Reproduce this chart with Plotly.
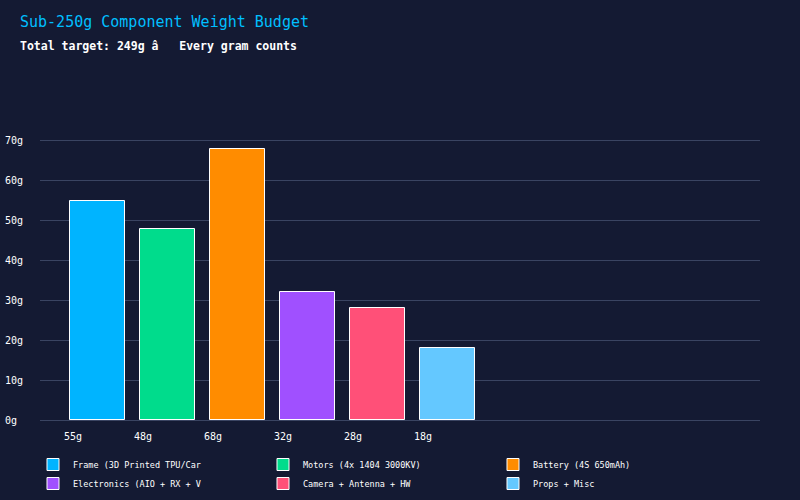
import plotly.graph_objects as go

components = ["Frame (3D Printed TPU/Car", "Motors (4x 1404 3000KV)", "Battery (4S 650mAh)",
              "Electronics (AIO + RX + V", "Camera + Antenna + HW", "Props + Misc"]
weights = [55, 48, 68, 32, 28, 18]
colors = ["#00b4ff", "#00dc8c", "#ff8c00", "#a050ff", "#ff5078", "#64c8ff"]
tick_labels = ["55g", "48g", "68g", "32g", "28g", "18g"]
y_ticks = [0, 10, 20, 30, 40, 50, 60, 70]
y_tick_text = ["0g\u00a0", "10g", "20g", "30g", "40g", "50g", "60g", "70g"]

BG = "#141a33"
GRID = "#3a4462"
FONT = "DejaVu Sans Mono"

fig = go.Figure()
for i, (name, w, c) in enumerate(zip(components, weights, colors)):
    fig.add_trace(go.Bar(
        x=[i], y=[w], name=name, width=0.786,
        marker=dict(color=c, line=dict(color="#ffffff", width=1)),
        hovertemplate=name + ": %{y}g<extra></extra>",
    ))

fig.update_layout(
    width=800, height=500,
    paper_bgcolor=BG, plot_bgcolor=BG,
    margin=dict(l=40, r=40, t=121, b=80, autoexpand=False),
    font=dict(family=FONT, color="#ffffff", size=10),
    showlegend=True,
    bargap=0,
    xaxis=dict(
        range=[-0.821, 9.464],
        tickmode="array",
        tickvals=[i - 0.35 for i in range(len(weights))],
        ticktext=tick_labels,
        showgrid=False, zeroline=False, showline=False,
        tickfont=dict(size=10, color="#ffffff"),
        ticklabelstandoff=9,
        automargin=False,
        fixedrange=True,
    ),
    yaxis=dict(
        range=[0, 75],
        tickmode="array",
        tickvals=y_ticks,
        ticktext=y_tick_text,
        showgrid=True, gridcolor=GRID, gridwidth=1,
        zeroline=True, zerolinecolor=GRID, zerolinewidth=1,
        showline=False,
        tickfont=dict(size=10, color="#ffffff"),
        ticklabelstandoff=16,
        automargin=False,
        fixedrange=True,
    ),
    legend=dict(
        orientation="h",
        xref="container", yref="container",
        x=33/800, xanchor="left",
        y=1 - 450/500, yanchor="top",
        entrywidth=185, entrywidthmode="pixels",
        font=dict(size=8.5, color="#ffffff", family=FONT),
        bgcolor="rgba(0,0,0,0)",
        traceorder="normal",
        tracegroupgap=0,
    ),
)

fig.add_annotation(text="Sub-250g Component Weight Budget", xref="paper", yref="paper",
                   x=-22/720, y=1 + (121-22)/299, xanchor="left", yanchor="middle",
                   showarrow=False, font=dict(family=FONT, size=15, color="#00bfff"))
fig.add_annotation(text="<b>Total target: 249g â\u00a0\u00a0\u00a0Every gram counts</b>", xref="paper", yref="paper",
                   x=-22/720, y=1 + (121-46)/299, xanchor="left", yanchor="middle",
                   showarrow=False, font=dict(family=FONT, size=11.5, color="#ffffff"))

fig.write_html("out.html")
